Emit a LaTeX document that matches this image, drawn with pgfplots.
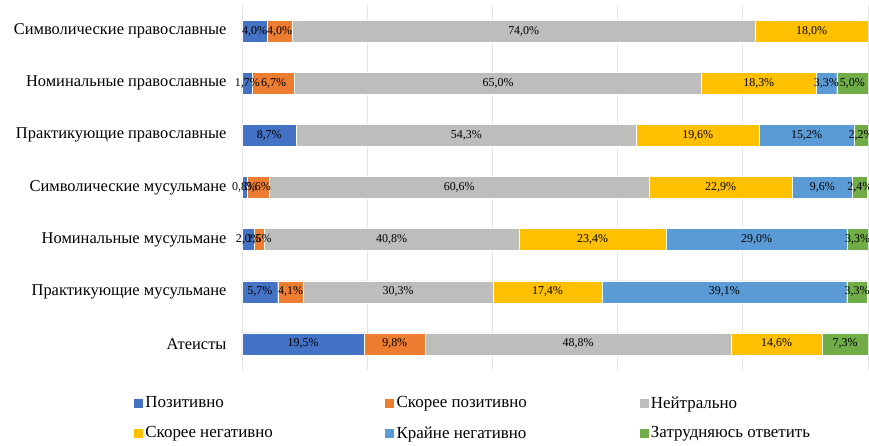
\documentclass[border=0pt]{standalone}
\usepackage{pgfplots}
\pgfplotsset{compat=1.18}
\usepackage{fontspec}
\setmainfont{Liberation Serif}
\definecolor{c1}{HTML}{4472C4}
\definecolor{c2}{HTML}{ED7D31}
\definecolor{c3}{HTML}{BDBDBB}
\definecolor{c4}{HTML}{FFC000}
\definecolor{c5}{HTML}{5B9BD5}
\definecolor{c6}{HTML}{70AD47}
\begin{document}
\begin{tikzpicture}
\useasboundingbox (-242bp,-76bp) rectangle (627bp,370bp);
\pgfplotsset{
  common/.style={
    at={(0,0)}, anchor=south west,
    scale only axis, width=626bp, height=365bp,
    xmin=0, xmax=100, ymin=-0.5, ymax=6.5,
    y dir=reverse,
  }
}
\begin{axis}[common,
  xbar stacked, bar width=22bp,
  axis line style={draw=none}, tick style={draw=none},
  xtick={0,20,...,100}, xticklabels={},
  xmajorgrids, grid style={color=black!10, line width=0.8pt},
  ytick={0,...,6},
  yticklabels={Символические православные, Номинальные православные, Практикующие православные, Символические мусульмане, Номинальные мусульмане, Практикующие мусульмане, Атеисты},
  yticklabel style={font=\fontsize{16.5}{18}\selectfont, xshift=-12bp},
  legend columns=3,
  legend style={at={(-0.174,-0.1315)}, anchor=west, draw=none, font=\fontsize{17}{19}\selectfont, row sep=13bp, column sep=0bp, inner sep=0pt, outer sep=0pt},
  legend cell align=left,
  area legend,
  legend image code/.code={\fill[#1] (0bp,-5bp) rectangle (10bp,5bp);},
]
\addplot[fill=c1, draw=white, line width=0.3pt] coordinates {(4.0,0) (1.7,1) (8.7,2) (0.8,3) (2.0,4) (5.7,5) (19.5,6)};
\addplot[fill=c2, draw=white, line width=0.3pt] coordinates {(4.0,0) (6.7,1) (0,2) (3.6,3) (1.5,4) (4.1,5) (9.8,6)};
\addplot[fill=c3, draw=white, line width=0.3pt] coordinates {(74.0,0) (65.0,1) (54.3,2) (60.6,3) (40.8,4) (30.3,5) (48.8,6)};
\addplot[fill=c4, draw=white, line width=0.3pt] coordinates {(18.0,0) (18.3,1) (19.6,2) (22.9,3) (23.4,4) (17.4,5) (14.6,6)};
\addplot[fill=c5, draw=white, line width=0.3pt] coordinates {(0,0) (3.3,1) (15.2,2) (9.6,3) (29.0,4) (39.1,5) (0,6)};
\addplot[fill=c6, draw=white, line width=0.3pt] coordinates {(0,0) (5.0,1) (2.2,2) (2.4,3) (3.3,4) (3.3,5) (7.3,6)};
\legend{\makebox[237bp][l]{Позитивно}, \makebox[240bp][l]{Скорее позитивно}, Нейтрально, Скорее негативно, Крайне негативно, Затрудняюсь ответить}
\end{axis}
\begin{axis}[common, hide axis,
  nodes near coords={\pgfmathprintnumber{\pgfplotspointmeta}\%},
  point meta=explicit,
  /pgf/number format/.cd, fixed, fixed zerofill, precision=1, use comma, assume math mode=true,
  /pgfplots/.cd,
  every node near coord/.append style={anchor=center, font=\fontsize{12}{14}\selectfont, text=black, inner sep=0pt},
]
\addplot[only marks, mark=none] coordinates {
 (2.0,0) [4.0] (6.0,0) [4.0] (45.0,0) [74.0] (91.0,0) [18.0]
 (0.85,1) [1.7] (5.05,1) [6.7] (40.9,1) [65.0] (82.55,1) [18.3] (93.35,1) [3.3] (97.5,1) [5.0]
 (4.35,2) [8.7] (35.85,2) [54.3] (72.8,2) [19.6] (90.2,2) [15.2] (98.9,2) [2.2]
 (0.4,3) [0.8] (2.6,3) [3.6] (34.7,3) [60.6] (76.45,3) [22.9] (92.7,3) [9.6] (98.7,3) [2.4]
 (1.0,4) [2.0] (2.75,4) [1.5] (23.9,4) [40.8] (56.0,4) [23.4] (82.2,4) [29.0] (98.35,4) [3.3]
 (2.85,5) [5.7] (7.75,5) [4.1] (24.95,5) [30.3] (48.8,5) [17.4] (77.05,5) [39.1] (98.25,5) [3.3]
 (9.75,6) [19.5] (24.4,6) [9.8] (53.7,6) [48.8] (85.4,6) [14.6] (96.35,6) [7.3]
};
\end{axis}
\end{tikzpicture}
\end{document}
